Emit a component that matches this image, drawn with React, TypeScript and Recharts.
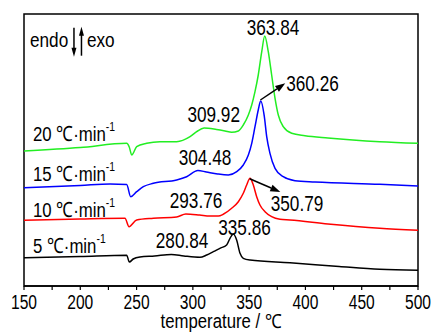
import React from 'react';
import { LineChart, Line, XAxis, YAxis, ReferenceDot, ReferenceLine, ReferenceArea } from 'recharts';

// DSC curves, heat flow in arbitrary units (curves offset by heating rate)
const t5 = [150, 200, 241.2, 243.6, 247, 253, 266, 280.84, 292, 306.3, 312.3, 318.2, 324, 330, 333, 335.86, 338.9, 341.9, 344.8, 350.8, 386.3, 430, 466, 500];
const hf5 = [28.3, 29.5, 30.7, 24, 27, 29, 30, 31.5, 30, 28.7, 31, 34.3, 37.7, 41, 47.7, 52, 46, 32.7, 27.7, 26, 23.3, 19.5, 16.7, 15.7];

const t10 = [150, 200, 239.7, 243.3, 250.1, 264.9, 285.6, 293.76, 306, 315, 322.6, 327, 334.5, 340.4, 344.8, 347.8, 350.79, 353.7, 356.7, 359.6, 364.1, 370, 377.4, 386.3, 420, 466, 500];
const hf10 = [65.7, 67, 67.7, 59.3, 66, 67.7, 69, 72, 71, 70, 70, 71.7, 77.7, 84.3, 92.7, 101, 107.7, 101, 89.3, 81, 74.3, 69.3, 66.7, 66, 62, 57.7, 55.7];

const t15 = [150, 200, 226.4, 241.2, 244.8, 250.1, 256, 264.9, 285.6, 294.5, 304.48, 312, 322, 331.5, 339, 344.8, 349.3, 352.3, 355.2, 358.1, 360.26, 363.5, 365.6, 368.5, 373, 380.3, 390.7, 408.5, 466, 500];
const hf15 = [98.3, 100.5, 102, 101.5, 89.3, 94.3, 99.3, 102.7, 106, 109.3, 115.5, 114, 112, 111, 114.3, 121, 131, 142.7, 159.3, 176, 185, 169.3, 149.3, 132.7, 117.7, 109.3, 105.3, 104, 101.7, 100];

const t20 = [150, 200, 241.2, 243.5, 245.7, 250.1, 259, 270.8, 285.6, 297.5, 303.4, 309.92, 321, 328.6, 334.5, 340.4, 344.8, 349.3, 352.3, 355.2, 358.1, 361.2, 363.84, 367, 370, 373, 375.9, 380.3, 387.8, 399.6, 420, 466, 500];
const hf20 = [135, 138.5, 142.7, 139, 131, 139.3, 142.7, 144.3, 144.3, 149.3, 154.3, 158, 156.5, 155, 153.7, 155, 161, 171, 181, 194.3, 211, 234.3, 250, 234.3, 211, 187.7, 171, 159.3, 152.7, 150.3, 148, 144.3, 142.7];

const xTicks = [150, 175, 200, 225, 250, 275, 300, 325, 350, 375, 400, 425, 450, 475, 500];

// peak labels: [text, temperature, heat flow]
const peakLabels: [string, number, number][] = [
  ['363.84', 371.2, 251],
  ['309.92', 318.5, 164.3],
  ['304.48', 310.8, 121],
  ['293.76', 302.8, 78],
  ['280.84', 290.4, 37.7],
  ['335.86', 345.9, 51],
  ['360.26', 406.3, 195.3],
  ['350.79', 392.5, 74.7],
];

const rateLabels: [string, number][] = [
  ['20', 145],
  ['15', 105],
  ['10', 69],
  ['5', 33],
];

const arrows: [number, number, number, number][] = [
  [360, 186, 382.1, 202.7],
  [350.5, 107.3, 377.7, 94],
];

const toPts = (t: number[], v: number[]) => t.map((x, i) => ({ t: x, v: v[i] }));

const FONT = "'Liberation Sans', Arial, sans-serif";

// narrow text: the original uses a condensed face, so squeeze horizontally
const NText = ({ x, y, size, sx, anchor = 'start', dy, children }: any) => (
  <text
    transform={`translate(${x},${y}) scale(${sx},1)`}
    textAnchor={anchor}
    dy={dy}
    fontFamily={FONT}
    fontSize={size}
    fill="#000"
  >
    {children}
  </text>
);

const ArrowShape = (p: any) => {
  const { x1, y1, x2, y2 } = p;
  const a = Math.atan2(y2 - y1, x2 - x1);
  const L = 10, W = 3.5;
  const bx = x2 - L * Math.cos(a), by = y2 - L * Math.sin(a);
  const pts = `${x2},${y2} ${bx - W * Math.sin(a)},${by + W * Math.cos(a)} ${bx + W * Math.sin(a)},${by - W * Math.cos(a)}`;
  return (
    <g>
      <line x1={x1} y1={y1} x2={bx} y2={by} stroke="#000" strokeWidth={1.5} />
      <polygon points={pts} fill="#000" />
    </g>
  );
};

const EndoExo = (p: any) => {
  const { cx, cy } = p;
  return (
    <g>
      <NText x={cx} y={cy} size={20} sx={0.86}>endo</NText>
      <line x1={cx + 44} y1={cy - 19} x2={cx + 44} y2={cy + 3} stroke="#000" strokeWidth={1.5} />
      <polygon points={`${cx + 44},${cy + 10} ${cx + 41.5},${cy + 1} ${cx + 46.5},${cy + 1}`} fill="#000" />
      <line x1={cx + 51.5} y1={cy + 9} x2={cx + 51.5} y2={cy - 13} stroke="#000" strokeWidth={1.5} />
      <polygon points={`${cx + 51.5},${cy - 20} ${cx + 49},${cy - 11} ${cx + 54},${cy - 11}`} fill="#000" />
      <NText x={cx + 57} y={cy} size={20} sx={0.86}>exo</NText>
    </g>
  );
};

const XTick = (p: any) => {
  const v = p.payload.value;
  if (v % 50 !== 0) return <g />;
  return (
    <NText x={p.x} y={p.y} size={19.5} sx={0.8} anchor="middle" dy="0.71em">{v}</NText>
  );
};

const AxisTitle = (p: any) => {
  const vb = p.viewBox;
  return (
    <NText x={vb.x + vb.width / 2} y={vb.y + 42} size={19.5} sx={0.86} anchor="middle">
      temperature / ℃
    </NText>
  );
};

export default function App() {
  return (
    <div style={{ position: 'absolute', left: 0, top: 0, background: '#fff' }}>
      <LineChart width={434} height={334} margin={{ top: 14, right: 16, left: 24, bottom: 0 }}>
        <XAxis
          dataKey="t"
          type="number"
          domain={[150, 500]}
          ticks={xTicks}
          interval={0}
          allowDuplicatedCategory={false}
          height={48}
          tickSize={4}
          tickMargin={5}
          tick={<XTick />}
          axisLine={{ stroke: '#000', strokeWidth: 1.5 }}
          tickLine={{ stroke: '#000', strokeWidth: 1.2 }}
          label={<AxisTitle />}
        />
        <YAxis type="number" domain={[0, 272]} hide />

        <ReferenceArea x1={150} x2={500} y1={0} y2={272} fill="none" stroke="#000" strokeWidth={1.5} ifOverflow="visible" />

        <Line data={toPts(t5, hf5)} dataKey="v" type="monotone" stroke="#000000" strokeWidth={1.5} dot={false} isAnimationActive={false} />
        <Line data={toPts(t10, hf10)} dataKey="v" type="monotone" stroke="#ff0000" strokeWidth={1.5} dot={false} isAnimationActive={false} />
        <Line data={toPts(t15, hf15)} dataKey="v" type="monotone" stroke="#0000ff" strokeWidth={1.5} dot={false} isAnimationActive={false} />
        <Line data={toPts(t20, hf20)} dataKey="v" type="monotone" stroke="#22ee22" strokeWidth={1.5} dot={false} isAnimationActive={false} />

        {arrows.map(([xa, ya, xb, yb], i) => (
          <ReferenceLine key={'a' + i} segment={[{ x: xa, y: ya }, { x: xb, y: yb }]} shape={ArrowShape} ifOverflow="visible" />
        ))}

        {peakLabels.map(([txt, x, y]) => (
          <ReferenceDot
            key={txt}
            x={x}
            y={y}
            r={0}
            ifOverflow="visible"
            shape={(p: any) => (
              <NText x={p.cx} y={p.cy} size={21.5} sx={0.8} anchor="middle">{txt}</NText>
            )}
          />
        ))}

        {rateLabels.map(([rate, y]) => (
          <ReferenceDot
            key={'r' + rate}
            x={158}
            y={y}
            r={0}
            ifOverflow="visible"
            shape={(p: any) => (
              <NText x={p.cx} y={p.cy} size={21} sx={0.8}>
                {rate} ℃·min
                <tspan dy={-10} fontSize={13}>-1</tspan>
              </NText>
            )}
          />
        ))}

        <ReferenceDot x={155.3} y={239.3} r={0} ifOverflow="visible" shape={EndoExo} />
      </LineChart>
    </div>
  );
}
